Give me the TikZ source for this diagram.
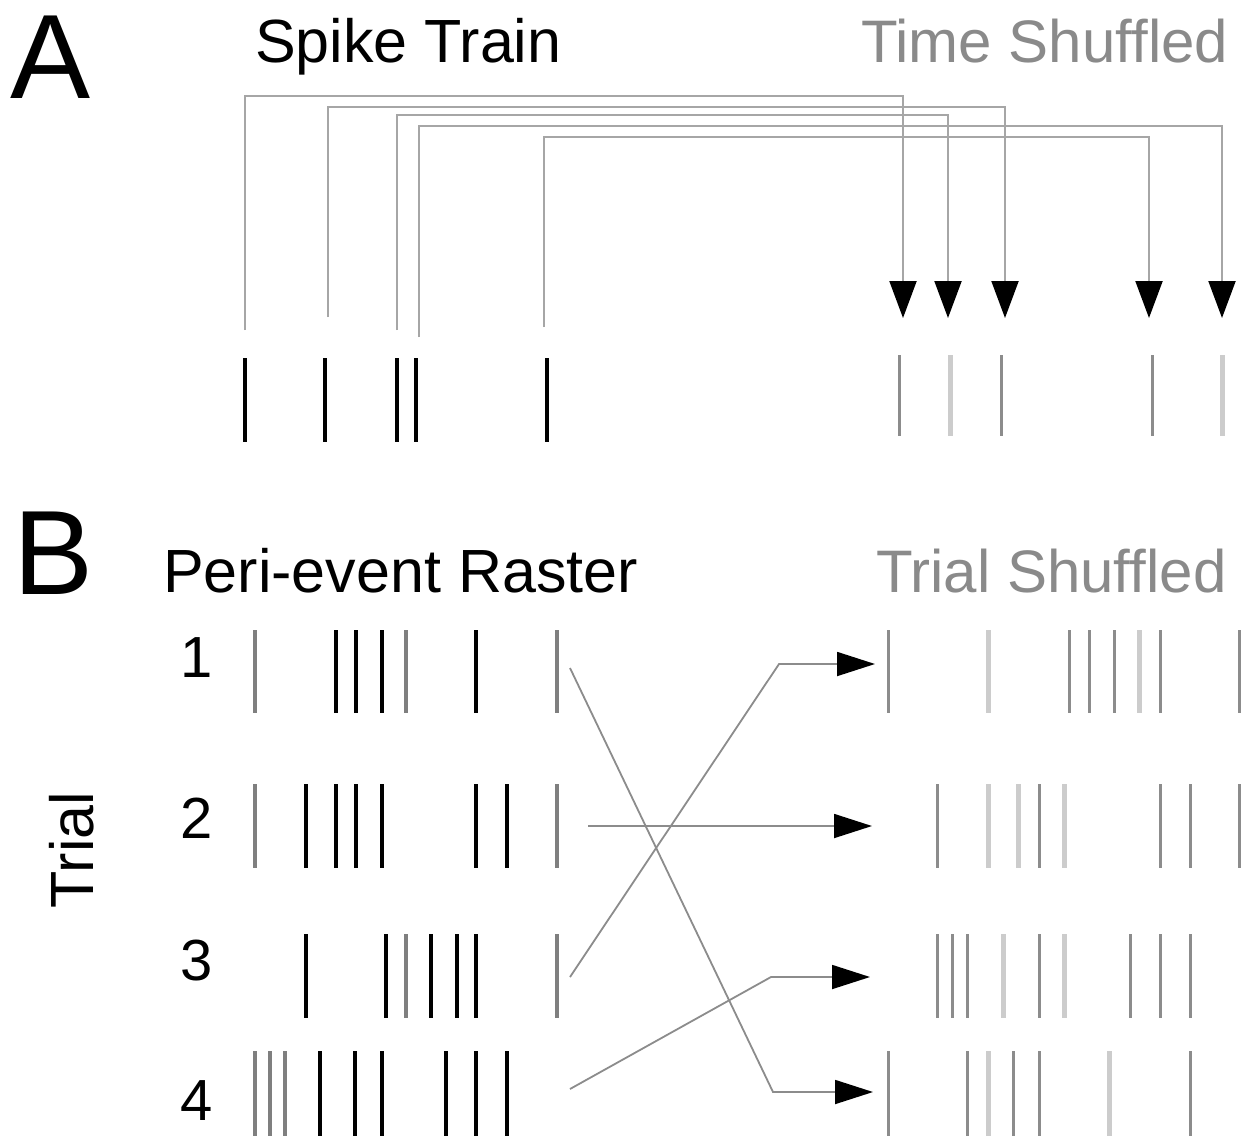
\documentclass[tikz,border=0pt]{standalone}
\usepackage{fontspec}
\setmainfont{Liberation Sans}
\usetikzlibrary{arrows.meta}
\definecolor{titlegray}{HTML}{8A8A8A}
\definecolor{conngray}{HTML}{A6A6A6}
\definecolor{conngrayB}{HTML}{8C8C8C}
\definecolor{spkdark}{HTML}{8C8C8C}
\definecolor{spklight}{HTML}{CCCCCC}
\definecolor{spkmid}{HTML}{7F7F7F}
\begin{document}
\begin{tikzpicture}[x=1pt,y=-1pt,
  big/.style={font=\fontsize{120}{120}\selectfont, inner sep=0pt, anchor=base west},
  title/.style={font=\fontsize{61}{62}\selectfont, inner sep=0pt, anchor=base west},
  gtitle/.style={font=\fontsize{60}{62}\selectfont, inner sep=0pt, anchor=base west, text=titlegray},
  num/.style={font=\fontsize{58}{60}\selectfont, inner sep=0pt, anchor=base},
  blk/.style={line width=3.5pt, black},
  gry/.style={line width=4.5pt, spkmid},
  dk/.style={line width=3pt, spkdark},
  lt/.style={line width=5pt, spklight},
  conA/.style={line width=2pt, conngray, -{Triangle[length=37pt,width=27pt,color=black]}},
  conB/.style={line width=1.8pt, conngrayB, -{Triangle[length=38pt,width=24pt,color=black]}},
]
\fill[white] (0,0) rectangle (1253,1136);
\useasboundingbox (0,0) rectangle (1253,1136);

% ---------- Panel A ----------
\node[big] (lblA) at (10,98) {A};
\node[title] (stA) at (255,62) {Spike Train};
\node[gtitle] (tsA) at (861,62) {Time Shuffled};

\foreach \x in {245,325,397,416,547} \draw[blk] (\x,358) -- (\x,442);
\foreach \x/\s in {899/dk,950/lt,1001/dk,1152/dk,1222/lt} \draw[\s] (\x,355) -- (\x,436);

\coordinate (a1) at (245,330);
\coordinate (a2) at (328,317);
\coordinate (a3) at (397,330);
\coordinate (a4) at (419,337);
\coordinate (a5) at (544,327);
\coordinate (t1) at (903,318);
\coordinate (t2) at (1005,318);
\coordinate (t3) at (948,318);
\coordinate (t4) at (1222,318);
\coordinate (t5) at (1149,318);

\draw[conA] (a1) -- (a1 |- 0,96) -| (t1);
\draw[conA] (a2) -- (a2 |- 0,107) -| (t2);
\draw[conA] (a3) -- (a3 |- 0,115) -| (t3);
\draw[conA] (a4) -- (a4 |- 0,126) -| (t4);
\draw[conA] (a5) -- (a5 |- 0,137) -| (t5);

% ---------- Panel B ----------
\node[big] (lblB) at (13,594) {B};
\node[title] (per) at (163,592) {Peri-event Raster};
\node[gtitle] (trs) at (876,592) {Trial Shuffled};
\node[title, rotate=90, anchor=center] (trial) at (72,850) {Trial};
\node[num] (n1) at (197,677) {1};
\node[num] (n2) at (197,838) {2};
\node[num] (n3) at (197,980) {3};
\node[num] (n4) at (197,1120) {4};

% left raster
\foreach \x/\s in {255/gry,336/blk,356/blk,382/blk,406/gry,476/blk,557/gry} \draw[\s] (\x,630) -- (\x,713);
\foreach \x/\s in {255/gry,306/blk,336/blk,356/blk,382/blk,476/blk,507/blk,557/gry} \draw[\s] (\x,784) -- (\x,868);
\foreach \x/\s in {306/blk,386/blk,406/gry,431/blk,457/blk,476/blk,557/gry} \draw[\s] (\x,934) -- (\x,1018);
\foreach \x/\s in {255/gry,270/gry,285/gry,320/blk,355/blk,382/blk,446/blk,476/blk,507/blk} \draw[\s] (\x,1051) -- (\x,1136);

% right raster
\foreach \x/\s in {888/dk,988/lt,1069/dk,1089/dk,1114/dk,1139/lt,1160/dk,1239/dk} \draw[\s] (\x,630) -- (\x,713);
\foreach \x/\s in {937/dk,988/lt,1018/lt,1039/dk,1064/lt,1160/dk,1190/dk,1239/dk} \draw[\s] (\x,784) -- (\x,868);
\foreach \x/\s in {937/dk,952/dk,967/dk,1003/lt,1039/dk,1064/lt,1130/dk,1160/dk,1190/dk} \draw[\s] (\x,934) -- (\x,1018);
\foreach \x/\s in {888/dk,967/dk,988/lt,1013/dk,1039/dk,1109/lt,1190/dk} \draw[\s] (\x,1051) -- (\x,1136);

% connectors
\coordinate (b1s) at (570,668);
\coordinate (b1m) at (773,1092);
\coordinate (b1e) at (873,1092);
\coordinate (b2s) at (588,826);
\coordinate (b2e) at (872,826);
\coordinate (b3s) at (570,977);
\coordinate (b3m) at (779,664);
\coordinate (b3e) at (875,664);
\coordinate (b4s) at (570,1089);
\coordinate (b4m) at (771,977);
\coordinate (b4e) at (870,977);

\draw[conB] (b1s) -- (b1m) -- (b1e);
\draw[conB] (b2s) -- (b2e);
\draw[conB] (b3s) -- (b3m) -- (b3e);
\draw[conB] (b4s) -- (b4m) -- (b4e);
\end{tikzpicture}
\end{document}
